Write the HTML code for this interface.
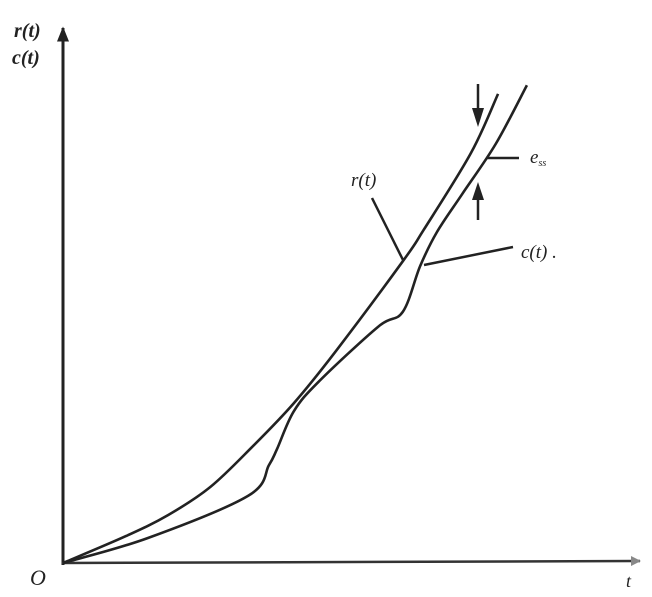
<!DOCTYPE html>
<html><head><meta charset="utf-8"><style>
body{margin:0;background:#fff;}
svg{display:block;}
text{font-family:"Liberation Serif",serif;font-style:italic;fill:#222;}
</style></head><body>
<svg id="chart" width="652" height="597">
<defs>
<marker id="ah" viewBox="0 0 10 10" refX="9" refY="5" markerWidth="5" markerHeight="5" orient="auto"><path d="M0,1 L10,5 L0,9 Z" fill="#222"/></marker>
<marker id="ah2" viewBox="0 0 10 10" refX="9" refY="5" markerWidth="6" markerHeight="4" orient="auto"><path d="M0,0 L10,5 L0,10 Z" fill="#888"/></marker>
</defs>
<line x1="63" y1="565" x2="63" y2="28" stroke="#222" stroke-width="3" marker-end="url(#ah)"/>
<line x1="62" y1="563" x2="640" y2="561" stroke="#333" stroke-width="2.5" marker-end="url(#ah2)"/>
<text x="14" y="37" font-size="20" font-weight="bold">r(t)</text>
<text x="12" y="64" font-size="20" font-weight="bold">c(t)</text>
<text x="30" y="585" font-size="22">O</text>
<text x="626" y="587" font-size="18">t</text>
<g id="curves"></g>
<line x1="372" y1="198" x2="403" y2="260" stroke="#222" stroke-width="2.5"/>
<text x="351" y="186" font-size="19">r(t)</text>
<line x1="424" y1="265" x2="513" y2="247" stroke="#222" stroke-width="2.5"/>
<text x="521" y="258" font-size="19">c(t) .</text>
<line x1="487" y1="158" x2="519" y2="158" stroke="#222" stroke-width="2.5"/>
<text x="530" y="163" font-size="19">e<tspan font-size="10" dy="3">ss</tspan></text>
<g><line x1="478" y1="84" x2="478" y2="112" stroke="#222" stroke-width="2.5"/><path d="M472,108 L484,108 L478,127 Z" fill="#222"/></g>
<g><line x1="478" y1="220" x2="478" y2="196" stroke="#222" stroke-width="2.5"/><path d="M472,200 L484,200 L478,182 Z" fill="#222"/></g>
</svg>
<script>
const rT=[0,10.9,18.2,25.5,32.8,40.0,47.3,58.9,62.5,70.7,75.4];
const rV=[0,5.0,8.9,14.1,21.6,29.7,39.4,56.1,61.9,76.2,87.2];
const cT=[0,14.6,32.1,35.7,37.1,40.0,44.4,54.6,58.9,61.9,64.8,69.2,75.0,80.4];
const cV=[0,4.6,12.5,18.2,21.2,28.2,33.8,43.9,46.7,55.2,61.5,68.6,77.9,88.8];
function sx(t){return 63+t*5.77;}
function sy(v){return 563-v*5.38;}
function path(ts,vs){
  const p=ts.map((t,i)=>[sx(t),sy(vs[i])]);
  let d='M'+p[0][0]+','+p[0][1];
  for(let i=0;i<p.length-1;i++){
    const p0=p[Math.max(0,i-1)],p1=p[i],p2=p[i+1],p3=p[Math.min(p.length-1,i+2)];
    const c1=[p1[0]+(p2[0]-p0[0])/6,p1[1]+(p2[1]-p0[1])/6];
    const c2=[p2[0]-(p3[0]-p1[0])/6,p2[1]-(p3[1]-p1[1])/6];
    d+=' C'+c1.join(',')+' '+c2.join(',')+' '+p2.join(',');
  }
  return d;
}
const g=document.getElementById('curves');
const ns='http://www.w3.org/2000/svg';
const pr=document.createElementNS(ns,'path');
pr.setAttribute('d',path(rT,rV));
pr.setAttribute('fill','none');pr.setAttribute('stroke','#222');pr.setAttribute('stroke-width','2.6');


g.appendChild(pr);
const pc=document.createElementNS(ns,'path');
pc.setAttribute('d',path(cT,cV));
pc.setAttribute('fill','none');pc.setAttribute('stroke','#222');pc.setAttribute('stroke-width','2.6');


g.appendChild(pc);
</script>
</body></html>
